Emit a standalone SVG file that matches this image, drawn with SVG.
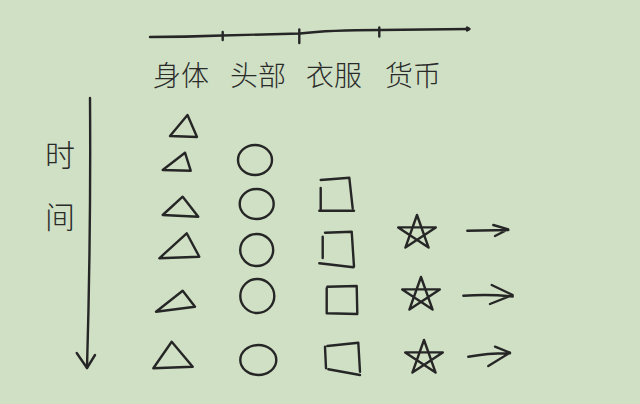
<svg xmlns="http://www.w3.org/2000/svg" width="640" height="404" viewBox="0 0 640 404">
<style>
.s{fill:none;stroke:#262626;stroke-width:2.4;stroke-linecap:round;stroke-linejoin:round}
.t{font-family:"Noto Sans CJK SC","Noto Sans",sans-serif;fill:#2a2a2a;text-anchor:middle;font-weight:300}
</style>
<rect width="640" height="404" fill="#cfe0c4"/>
<g id="connectors" class="s">
<path d="M150,37 Q185,37 222,35.5 L300,33.5 Q330,30 380,30 L469,29"/>
<path d="M467,27.5 L469.5,29 L467,30.5"/>
<path d="M222.7,32 L222.7,40 M299.3,29.5 L299.3,43 M379.3,27.5 L379.3,36.5"/>
<path d="M90,98 Q91,230 87,368"/>
<path d="M76.7,353 L87,368 L95,355"/>
<path d="M467.3,230.7 L508.3,230 M493.3,225 L508.3,229.3 L495,236"/>
<path d="M463.3,295.7 Q490,294 512.7,296.5 M491.7,285 L512.7,295 L490,304"/>
<path d="M468.3,356.7 Q490,353 510,353.3 M495,346.7 L510,352.7 L488.3,366"/>
</g>
<g id="labels-top">
<text class="t" x="181" y="86" font-size="28">身体</text>
<text class="t" x="258" y="86" font-size="28">头部</text>
<text class="t" x="334" y="86" font-size="28">衣服</text>
<text class="t" x="413" y="86" font-size="28">货币</text>
</g>
<g id="label-time">
<text class="t" x="60" y="166" font-size="30">时</text>
<text class="t" x="60" y="228" font-size="30">间</text>
</g>
<g id="body-column" class="s">
<path d="M187.5,115 L170,136 L197,137 Z"/>
<path d="M185,152.7 L162.7,170 L190.7,170.7 Z"/>
<path d="M182.7,196.7 L162.7,215 L198.3,216.7 Z"/>
<path d="M186.7,233.3 L159.3,258.3 L199.3,256.7 Z"/>
<path d="M182.7,290.7 L156,311.7 L195,306.7 Z"/>
<path d="M171.7,341.7 L153.3,368.3 L192.7,366.7 Z"/>
</g>
<g id="head-column" class="s">
<ellipse cx="255" cy="160" rx="17" ry="15"/>
<ellipse cx="256.7" cy="204" rx="17" ry="15"/>
<ellipse cx="256.7" cy="250" rx="16.5" ry="16"/>
<ellipse cx="257.3" cy="296" rx="17" ry="17"/>
<ellipse cx="258.3" cy="360" rx="18" ry="15"/>
</g>
<g id="clothes-column" class="s">
<path d="M320.7,188 L320.7,210 M320.7,180 L349.3,177.7 L352.7,208.3 M319.3,210.7 L354,210.7"/>
<path d="M322.7,236.7 L322.7,258 M325,232.7 L351.7,231.7 L354,266.7 M319.3,263.3 L353.3,267.3"/>
<path d="M326.7,288.3 L326.7,313.3 M327.3,286.7 L356.7,286 L357.3,313.3 M326.7,313.3 L357.3,314"/>
<path d="M325,346.7 L326,368.3 M327.3,346 L358.3,342.7 L360,371.7 M328.3,369.3 L360,375"/>
</g>
<g id="currency-column" class="s">
<path d="M417,215 L428.6,247.6 L398.2,227.4 L435.8,227.4 L405.4,247.6 Z"/>
<path d="M421,277 L432.6,309.6 L402.2,289.4 L439.8,289.4 L409.4,309.6 Z"/>
<path d="M424,340 L435.6,372.6 L405.2,352.4 L442.8,352.4 L412.4,372.6 Z"/>
</g>
</svg>
